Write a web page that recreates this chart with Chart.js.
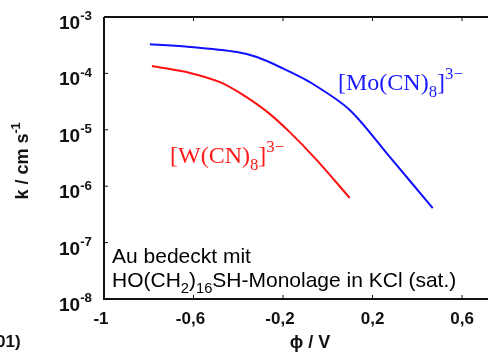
<!DOCTYPE html>
<html><head><meta charset="utf-8">
<script src="https://cdn.jsdelivr.net/npm/chart.js@4.4.1/dist/chart.umd.min.js"></script>
<style>html,body{margin:0;padding:0;background:#fff;}#wrap{width:488px;height:352px;position:relative;}</style>
</head><body><div id="wrap"><canvas id="c" width="488" height="352"></canvas></div>
<script>
const moPotential = [-0.795, -0.616, -0.406, -0.317, -0.214, -0.080, 0.098, 0.277, 0.469];
const moRate = [3.3e-4, 2.95e-4, 2.4e-4, 1.95e-4, 1.3e-4, 7.0e-5, 2.25e-5, 3.3e-6, 4.1e-7];
const wPotential = [-0.786, -0.616, -0.482, -0.393, -0.272, -0.170, -0.049, 0.098];
const wRate = [1.35e-4, 1.02e-4, 7.0e-5, 4.5e-5, 2.1e-5, 9.1e-6, 2.9e-6, 6.2e-7];
const xTickValues = [-1, -0.6, -0.2, 0.2, 0.6];
const xTickLabels = ['-1', '-0,6', '-0,2', '0,2', '0,6'];
const yTickExponents = [-3, -4, -5, -6, -7, -8];

const toPts = (xs, ys) => xs.map((x, i) => ({x: x, y: ys[i]}));

const SANS = '"Liberation Sans", Arial, sans-serif';
const SERIF = '"Liberation Serif", "DejaVu Serif", serif';

function drawSupText(ctx, x, y, parts, baseSize, font, weight, align) {
  const widths = parts.map(p => {
    const s = p.mode === 'n' ? baseSize : baseSize * 0.7;
    ctx.font = `${weight} ${s}px ${font}`;
    return ctx.measureText(p.t).width;
  });
  const total = widths.reduce((a, b) => a + b, 0);
  let cx = align === 'right' ? x - total : (align === 'center' ? x - total / 2 : x);
  ctx.textAlign = 'left';
  ctx.textBaseline = 'alphabetic';
  parts.forEach((p, i) => {
    const s = p.mode === 'n' ? baseSize : baseSize * 0.7;
    ctx.font = `${weight} ${s}px ${font}`;
    let dy = 0;
    if (p.mode === 'sup') dy = -baseSize * 0.45;
    if (p.mode === 'sub') dy = baseSize * 0.3;
    ctx.fillText(p.t, cx, y + dy);
    cx += widths[i];
  });
}

const decor = {
  id: 'decor',
  afterDraw(chart) {
    const ctx = chart.ctx;
    const xs = chart.scales.x, ys = chart.scales.y;
    const a = chart.chartArea;
    ctx.save();
    ctx.strokeStyle = '#111';
    ctx.lineWidth = 2;
    ctx.beginPath();
    ctx.moveTo(a.left, a.top); ctx.lineTo(chart.width, a.top);
    ctx.moveTo(a.left, a.top); ctx.lineTo(a.left, a.bottom);
    ctx.lineTo(chart.width, a.bottom);
    ctx.stroke();
    ctx.lineWidth = 1;
    ctx.beginPath();
    xTickValues.forEach(v => {
      const px = xs.getPixelForValue(v);
      ctx.moveTo(px, a.bottom); ctx.lineTo(px, a.bottom - 4);
      ctx.moveTo(px, a.top); ctx.lineTo(px, a.top + 4);
    });
    yTickExponents.forEach(e => {
      const py = ys.getPixelForValue(Math.pow(10, e));
      ctx.moveTo(a.left, py); ctx.lineTo(a.left + 4, py);
    });
    ctx.stroke();
    ctx.fillStyle = '#111';
    ctx.font = `bold 17px ${SANS}`;
    ctx.textAlign = 'center';
    ctx.textBaseline = 'alphabetic';
    xTickValues.forEach((v, i) => {
      const px = xs.getPixelForValue(v);
      const lbl = xTickLabels[i];
      const off = lbl.startsWith('-') ? -3 : 0;
      ctx.fillText(lbl, px + off, 324);
    });
    yTickExponents.forEach(e => {
      const py = ys.getPixelForValue(Math.pow(10, e));
      drawSupText(ctx, 92, py + 12, [{t: '10', mode: 'n'}, {t: String(e), mode: 'sup'}], 19, SANS, 'bold', 'right');
    });
    ctx.save();
    ctx.translate(28, 161);
    ctx.rotate(-Math.PI / 2);
    drawSupText(ctx, 0, 0, [{t: 'k / cm s', mode: 'n'}, {t: '-1', mode: 'sup'}], 18, SANS, 'bold', 'center');
    ctx.restore();
    ctx.font = `bold 18px ${SANS}`;
    ctx.textAlign = 'center';
    ctx.textBaseline = 'alphabetic';
    ctx.fillText('\u03D5 / V', 310, 348);
    ctx.font = `bold 17px ${SANS}`;
    ctx.textAlign = 'left';
    ctx.fillText('01)', -4, 347);
    ctx.fillStyle = '#000';
    ctx.font = `21px ${SANS}`;
    ctx.fillText('Au bedeckt mit', 112, 263);
    drawSupText(ctx, 112, 287, [
      {t: 'HO(CH', mode: 'n'}, {t: '2', mode: 'sub'}, {t: ')', mode: 'n'}, {t: '16', mode: 'sub'},
      {t: 'SH-Monolage in KCl (sat.)', mode: 'n'}], 21, SANS, 'normal', 'left');
    ctx.fillStyle = '#1a1aff';
    drawSupText(ctx, 338, 90, [{t: '[Mo(CN)', mode: 'n'}, {t: '8', mode: 'sub'}, {t: ']', mode: 'n'}, {t: '3\u2212', mode: 'sup'}], 24, SERIF, 'normal', 'left');
    ctx.fillStyle = '#ff1a1a';
    drawSupText(ctx, 170, 163, [{t: '[W(CN)', mode: 'n'}, {t: '8', mode: 'sub'}, {t: ']', mode: 'n'}, {t: '3\u2212', mode: 'sup'}], 24, SERIF, 'normal', 'left');
    ctx.restore();
  }
};

new Chart(document.getElementById('c'), {
  type: 'scatter',
  data: {
    datasets: [
      {label: '[Mo(CN)8]3-', data: toPts(moPotential, moRate), showLine: true, borderColor: '#1010ff', borderWidth: 2, pointRadius: 0, tension: 0.3, fill: false},
      {label: '[W(CN)8]3-', data: toPts(wPotential, wRate), showLine: true, borderColor: '#ff1010', borderWidth: 2, pointRadius: 0, tension: 0.3, fill: false}
    ]
  },
  options: {
    responsive: false,
    animation: false,
    devicePixelRatio: 1,
    layout: {padding: {top: 17, left: 0, right: 0, bottom: 0}},
    plugins: {legend: {display: false}, tooltip: {enabled: false}},
    scales: {
      x: {
        type: 'linear', min: -1, max: 0.716,
        grid: {display: false}, border: {display: false},
        ticks: {display: false},
        afterBuildTicks: s => { s.ticks = xTickValues.map(v => ({value: v})); },
        afterFit: s => { s.height = 53; }
      },
      y: {
        type: 'logarithmic', min: 1e-8, max: 1e-3,
        grid: {display: false}, border: {display: false},
        ticks: {display: false},
        afterBuildTicks: s => { s.ticks = yTickExponents.map(e => ({value: Math.pow(10, e)})); },
        afterFit: s => { s.width = 104; }
      }
    }
  },
  plugins: [decor]
});
</script>
</body></html>
